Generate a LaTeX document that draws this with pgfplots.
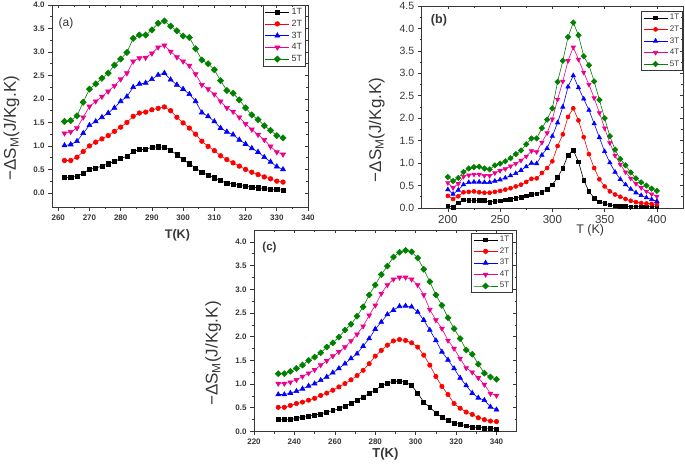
\documentclass[border=0pt]{standalone}
\usepackage{fontspec}
\setmainfont{Liberation Sans}
\usepackage{pgfplots}
\usepackage{pgfplotstable}
\pgfplotsset{compat=1.18}
\definecolor{ogreen}{RGB}{0,128,0}
\definecolor{axgray}{RGB}{55,55,55}

\pgfplotstableread{
T s1 s2 s3 s4 s5
262 0.33 0.69 1.01 1.27 1.52
264 0.33 0.69 1.03 1.30 1.54
266 0.35 0.76 1.10 1.38 1.64
268 0.42 0.88 1.27 1.61 1.93
270 0.50 1.00 1.44 1.84 2.21
272 0.53 1.08 1.52 1.95 2.32
274 0.57 1.15 1.61 2.05 2.44
276 0.62 1.22 1.70 2.16 2.55
278 0.67 1.31 1.81 2.28 2.72
280 0.73 1.40 1.95 2.42 2.85
282 0.78 1.50 2.05 2.55 2.99
284 0.88 1.63 2.25 2.80 3.29
286 0.92 1.70 2.32 2.87 3.36
288 0.93 1.72 2.34 2.88 3.36
290 0.97 1.77 2.42 2.97 3.47
292 0.98 1.80 2.51 3.10 3.61
294 0.97 1.83 2.55 3.14 3.66
296 0.91 1.75 2.41 3.01 3.55
298 0.81 1.61 2.30 2.89 3.45
300 0.71 1.49 2.21 2.80 3.34
302 0.62 1.38 2.10 2.71 3.31
304 0.53 1.25 1.95 2.53 3.07
306 0.44 1.10 1.71 2.30 2.83
308 0.38 0.99 1.63 2.21 2.75
310 0.32 0.90 1.52 2.10 2.62
312 0.26 0.79 1.38 1.95 2.39
314 0.21 0.71 1.30 1.81 2.18
316 0.19 0.64 1.24 1.73 2.12
318 0.16 0.57 1.13 1.61 1.98
320 0.14 0.50 1.04 1.47 1.81
322 0.12 0.44 0.95 1.35 1.66
324 0.11 0.39 0.87 1.24 1.56
326 0.09 0.34 0.76 1.13 1.43
328 0.08 0.30 0.66 0.99 1.33
330 0.07 0.25 0.56 0.87 1.22
332 0.06 0.23 0.50 0.82 1.17
}\dataA

\pgfplotstableread{
T s1 s2 s3 s4 s5
200 0.05 0.27 0.41 0.56 0.69
205 0.02 0.20 0.31 0.45 0.60
210 0.12 0.26 0.40 0.54 0.67
215 0.18 0.35 0.52 0.70 0.80
220 0.17 0.36 0.57 0.73 0.88
225 0.17 0.37 0.58 0.75 0.91
230 0.17 0.35 0.58 0.75 0.92
235 0.17 0.34 0.57 0.72 0.88
240 0.13 0.34 0.57 0.72 0.86
245 0.15 0.36 0.60 0.78 0.95
250 0.16 0.38 0.63 0.83 0.99
255 0.18 0.41 0.67 0.87 1.04
260 0.20 0.44 0.72 0.93 1.11
265 0.22 0.48 0.77 0.99 1.20
270 0.24 0.52 0.84 1.06 1.28
275 0.27 0.58 0.92 1.15 1.42
280 0.30 0.65 1.00 1.27 1.55
285 0.32 0.66 0.99 1.25 1.55
290 0.35 0.78 1.18 1.46 1.78
295 0.41 0.89 1.33 1.67 1.97
300 0.52 1.04 1.60 1.98 2.22
305 0.68 1.38 1.90 2.42 2.81
310 0.89 1.64 2.25 2.82 3.28
315 1.18 2.03 2.70 3.28 3.81
320 1.29 2.22 2.95 3.58 4.13
325 1.03 1.95 2.68 3.31 3.85
330 0.62 1.58 2.43 3.02 3.38
335 0.37 1.20 2.18 2.75 3.18
340 0.22 0.89 1.88 2.45 2.82
345 0.14 0.64 1.57 2.12 2.41
350 0.10 0.48 1.26 1.78 2.00
355 0.07 0.37 1.01 1.45 1.60
360 0.05 0.30 0.80 1.17 1.30
365 0.04 0.25 0.64 0.97 1.09
370 0.04 0.20 0.52 0.80 0.95
375 0.03 0.16 0.42 0.66 0.79
380 0.03 0.13 0.34 0.54 0.66
385 0.03 0.11 0.28 0.45 0.57
390 0.03 0.10 0.23 0.37 0.50
395 0.03 0.09 0.19 0.31 0.43
400 0.03 0.08 0.15 0.26 0.38
}\dataB

\pgfplotstableread{
T s1 s2 s3 s4 s5
232 0.25 0.51 0.78 1.01 1.22
235 0.25 0.51 0.78 1.01 1.22
238 0.25 0.55 0.81 1.04 1.27
241 0.28 0.59 0.85 1.09 1.33
244 0.30 0.62 0.90 1.16 1.40
247 0.32 0.66 0.96 1.23 1.50
250 0.35 0.70 1.01 1.30 1.57
253 0.37 0.76 1.08 1.40 1.66
256 0.41 0.81 1.15 1.49 1.78
259 0.44 0.87 1.24 1.59 1.87
262 0.48 0.94 1.33 1.68 1.99
265 0.54 1.01 1.43 1.78 2.14
268 0.59 1.09 1.54 1.91 2.26
271 0.66 1.18 1.64 2.05 2.43
274 0.73 1.29 1.80 2.22 2.63
277 0.80 1.43 1.96 2.45 2.88
280 0.87 1.59 2.16 2.66 3.09
283 0.97 1.71 2.31 2.91 3.31
286 1.02 1.82 2.47 3.09 3.49
289 1.06 1.91 2.56 3.21 3.68
292 1.06 1.94 2.64 3.25 3.78
295 1.04 1.92 2.65 3.25 3.82
298 0.97 1.87 2.63 3.21 3.79
301 0.81 1.78 2.52 3.09 3.66
304 0.62 1.61 2.35 2.88 3.42
307 0.51 1.40 2.14 2.57 3.16
310 0.39 1.16 1.92 2.35 2.88
313 0.30 0.95 1.68 2.17 2.66
316 0.23 0.78 1.51 1.92 2.40
319 0.18 0.59 1.33 1.75 2.17
322 0.15 0.49 1.13 1.54 1.96
325 0.12 0.41 0.97 1.34 1.72
328 0.09 0.36 0.81 1.25 1.63
331 0.09 0.29 0.71 1.13 1.42
334 0.07 0.25 0.66 0.99 1.23
337 0.07 0.22 0.52 0.80 1.15
340 0.05 0.21 0.46 0.76 1.10
}\dataC

\pgfplotsset{
  orig/.style={
    scale only axis,
    axis line style={draw=axgray, line width=0.8pt},
    tick style={draw=axgray, line width=0.6pt},
    major tick length=4pt, minor tick length=2.2pt,
    tick align=outside,
    xtick pos=left, ytick pos=left,
    /pgf/number format/assume math mode=true,
    yticklabel style={/pgf/number format/fixed, /pgf/number format/fixed zerofill, /pgf/number format/precision=1},
    every axis plot/.append style={line width=0.6pt},
    legend cell align=left,
    legend image code/.code={\draw[mark repeat=2,mark phase=2,##1] plot coordinates {(0pt,0pt)(12pt,0pt)(24pt,0pt)};},
  },
  origtop/.style={
    scale only axis,
    axis line style={draw=none},
    tick style={draw=axgray, line width=0.6pt},
    major tick length=3.5pt, minor tick length=2pt,
    tick align=inside,
    xtick pos=right, ytick pos=right,
    xticklabels={}, yticklabels={},
  },
  s1/.style={black, mark=square*, mark options={solid, scale=0.9}},
  s2/.style={red, mark=*, mark options={solid}},
  s3/.style={blue, mark=triangle*, mark options={solid, scale=1.25}},
  s4/.style={magenta, mark=triangle*, mark options={solid, rotate=180, scale=1.25}},
  s5/.style={ogreen, mark=square*, mark options={solid, rotate=45, scale=0.95}},
}

\begin{document}
\begin{tikzpicture}
\useasboundingbox (0pt,0pt) rectangle (685pt,470pt);

% ---------------- panel (a)
\begin{axis}[orig, at={(52pt,263pt)}, anchor=south west, width=256pt, height=202pt,
  xmin=258, xmax=340, ymin=-0.3, ymax=4.0,
  xtick={260,270,...,340}, ytick={0,0.5,1,1.5,2,2.5,3,3.5,4},
  minor x tick num=1, minor y tick num=1,
  mark size=2.3pt,
  tick label style={font=\fontsize{8}{9}\selectfont\bfseries, text=axgray},
  xlabel={T(K)}, xlabel style={font=\fontsize{12.5}{13}\selectfont\bfseries, text=axgray, at={(axis description cs:0.49,-0.14)}, anchor=center},
  ylabel={−ΔS\textsubscript{M}(J/Kg.K)}, ylabel style={font=\fontsize{17}{18}\selectfont, text=axgray, at={(axis description cs:-0.158,0.39)}, anchor=center},
  legend style={at={(axis description cs:0.992,1)}, anchor=north east, draw=axgray, line width=0.6pt, font=\fontsize{9}{10}\selectfont, text=axgray, inner xsep=1.5pt, inner ysep=1pt, row sep=0pt},
]
\addplot[s1] table[x=T,y=s1] {\dataA};
\addplot[s2] table[x=T,y=s2] {\dataA};
\addplot[s3] table[x=T,y=s3] {\dataA};
\addplot[s4] table[x=T,y=s4] {\dataA};
\addplot[s5] table[x=T,y=s5] {\dataA};
\legend{1T,2T,3T,4T,5T}
\node[font=\fontsize{12}{13}\selectfont, text=axgray] at (axis description cs:0.055,0.91) {(a)};
\end{axis}
\begin{axis}[origtop, at={(52pt,263pt)}, anchor=south west, width=256pt, height=202pt,
  xmin=258, xmax=340, ymin=-0.3, ymax=4.0,
  xtick={260,270,...,340}, ytick={0,0.5,1,1.5,2,2.5,3,3.5,4},
  minor x tick num=1, minor y tick num=1]
\end{axis}

% ---------------- panel (b)
\begin{axis}[orig, at={(421.7pt,262pt)}, anchor=south west, width=261.3pt, height=202pt,
  xmin=175, xmax=425, ymin=0, ymax=4.5,
  xtick={200,250,...,400}, ytick={0,0.5,1,1.5,2,2.5,3,3.5,4,4.5},
  minor x tick num=1, minor y tick num=1,
  mark size=2.0pt,
  xticklabel style={font=\fontsize{11.5}{12}\selectfont, text=axgray},
  yticklabel style={font=\fontsize{10.5}{11}\selectfont, text=axgray},
  xlabel={T (K)}, xlabel style={font=\fontsize{12.5}{13}\selectfont, text=axgray, at={(axis description cs:0.645,-0.112)}, anchor=center},
  ylabel={−ΔS\textsubscript{M}(J/Kg.K)}, ylabel style={font=\fontsize{17}{18}\selectfont, text=axgray, at={(axis description cs:-0.172,0.386)}, anchor=center},
  legend style={at={(axis description cs:1,0.975)}, anchor=north east, draw=axgray, line width=0.6pt, font=\fontsize{8}{9}\selectfont, text=axgray, inner xsep=1.5pt, inner ysep=1pt, row sep=0.5pt},
]
\addplot[s1] table[x=T,y=s1] {\dataB};
\addplot[s2] table[x=T,y=s2] {\dataB};
\addplot[s3] table[x=T,y=s3] {\dataB};
\addplot[s4] table[x=T,y=s4] {\dataB};
\addplot[s5] table[x=T,y=s5] {\dataB};
\legend{1T,2T,3T,4T,5T}
\node[font=\fontsize{12.5}{13}\selectfont\bfseries, text=axgray] at (axis description cs:0.066,0.93) {(b)};
\end{axis}
\begin{axis}[origtop, at={(421.7pt,262pt)}, anchor=south west, width=261.3pt, height=202pt,
  xmin=175, xmax=425, ymin=0, ymax=4.5,
  xtick={200,250,...,400}, ytick={0,0.5,1,1.5,2,2.5,3,3.5,4,4.5},
  minor x tick num=1, minor y tick num=1]
\end{axis}

% ---------------- panel (c)
\begin{axis}[orig, at={(254pt,38.5pt)}, anchor=south west, width=262.7pt, height=201.5pt,
  xmin=220, xmax=350, ymin=0, ymax=4.25,
  xtick={220,240,...,340}, ytick={0,0.5,1,1.5,2,2.5,3,3.5,4},
  minor x tick num=1, minor y tick num=1,
  mark size=2.2pt,
  tick label style={font=\fontsize{8}{9}\selectfont\bfseries, text=axgray},
  xlabel={T(K)}, xlabel style={font=\fontsize{13}{14}\selectfont\bfseries, text=axgray, at={(axis description cs:0.5,-0.112)}, anchor=center},
  ylabel={−ΔS\textsubscript{M}(J/Kg.K)}, ylabel style={font=\fontsize{17}{18}\selectfont, text=axgray, at={(axis description cs:-0.155,0.387)}, anchor=center},
  legend style={at={(axis description cs:0.986,0.985)}, anchor=north east, draw=axgray, line width=0.6pt, font=\fontsize{8}{9}\selectfont, text=axgray, inner xsep=1.5pt, inner ysep=1pt, row sep=0.5pt},
]
\addplot[s1] table[x=T,y=s1] {\dataC};
\addplot[s2] table[x=T,y=s2] {\dataC};
\addplot[s3] table[x=T,y=s3] {\dataC};
\addplot[s4] table[x=T,y=s4] {\dataC};
\addplot[s5] table[x=T,y=s5] {\dataC};
\legend{1T,2T,3T,4T,5T}
\node[font=\fontsize{11.5}{12}\selectfont\bfseries, text=axgray] at (axis description cs:0.059,0.913) {(c)};
\end{axis}
\begin{axis}[origtop, at={(254pt,38.5pt)}, anchor=south west, width=262.7pt, height=201.5pt,
  xmin=220, xmax=350, ymin=0, ymax=4.25,
  xtick={220,240,...,340}, ytick={0,0.5,1,1.5,2,2.5,3,3.5,4},
  minor x tick num=1, minor y tick num=1]
\end{axis}
\end{tikzpicture}
\end{document}
